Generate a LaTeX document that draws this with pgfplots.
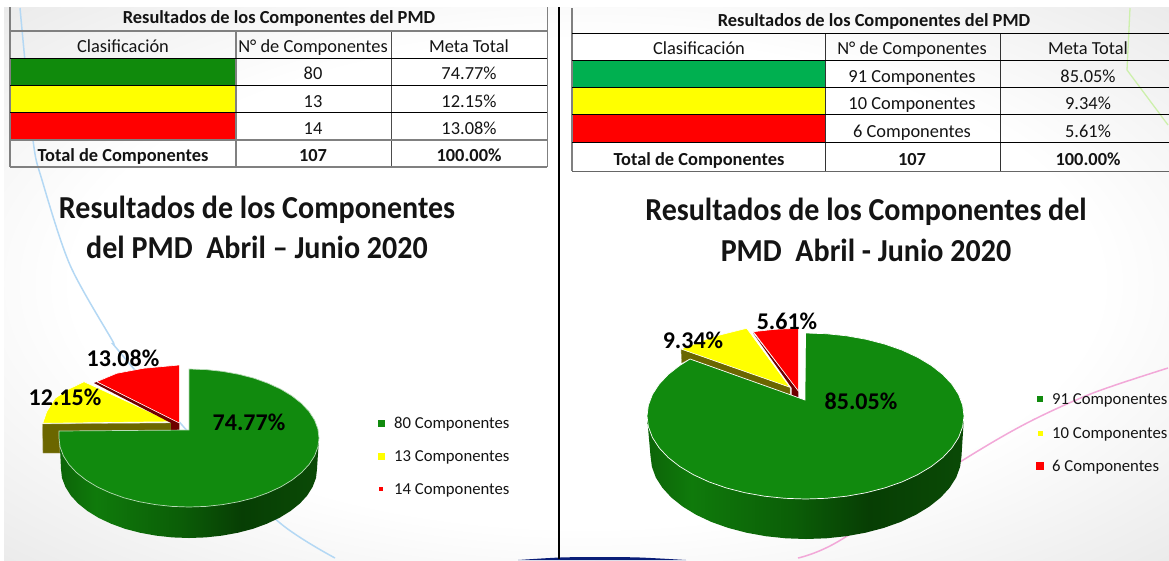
\documentclass[border=0pt]{standalone}
\usepackage{fontspec}
\setmainfont{Carlito}
\usepackage{graphicx}
\usepackage{pgfplots}
\pgfplotsset{compat=1.18}
\definecolor{pg}{HTML}{118A0E}
\definecolor{tg}{HTML}{108A0C}
\definecolor{tg2}{HTML}{00B050}
\definecolor{ol}{HTML}{6B6600}
\definecolor{dr}{HTML}{6E0000}
\definecolor{txt}{HTML}{141414}
\definecolor{yl}{HTML}{FFFF00}
\definecolor{rd}{HTML}{FF0000}
\definecolor{cblue}{HTML}{B4D8F4}
\definecolor{cpink}{HTML}{F2A8D8}
\definecolor{cgreen}{HTML}{CDF0AC}
\definecolor{navy}{HTML}{0A1E78}
\definecolor{sa}{HTML}{0C6408}
\definecolor{sb}{HTML}{0F7A0B}
\definecolor{sc}{HTML}{0B5E07}
\definecolor{sd}{HTML}{073E04}
\definecolor{se}{HTML}{0A4A06}
\definecolor{bgw}{HTML}{FFFFFF}
\definecolor{bgg}{HTML}{EAEAEA}
\definecolor{lg}{HTML}{808080}
\pgfdeclarehorizontalshading{sideg}{100bp}{color(0bp)=(sa);color(25bp)=(sa);color(32bp)=(sb);color(48bp)=(sc);color(60bp)=(sd);color(75bp)=(se);color(100bp)=(se)}
\pgfdeclareradialshading{bgs}{\pgfpoint{0bp}{0bp}}{color(0bp)=(bgw);color(22bp)=(bgw);color(36bp)=(bgg);color(50bp)=(bgg)}
\newcommand{\fs}[1]{\fontsize{#1}{#1}\selectfont}
\newcommand{\cond}[1]{\scalebox{.938}[1]{#1}}
\tikzset{tt/.style={text=txt,anchor=base,inner sep=0pt,font=\fs{18.4}},
tb/.style={text=txt,anchor=base,inner sep=0pt,font=\fs{18.4}\bfseries},
ti/.style={text=txt,anchor=base,inner sep=0pt,font=\fs{32}\bfseries},
pl/.style={text=black,font=\fs{24}\bfseries},
lt/.style={anchor=west,inner sep=0pt,text=txt,font=\fs{16.7}}}
\begin{document}
\begin{tikzpicture}
\begin{axis}[hide axis,scale only axis,width=1169pt,height=560pt,xmin=0,xmax=1169,ymin=0,ymax=560,y dir=reverse,no marks]
% page
\addplot[fill=white,draw=none] coordinates {(0,0)(1169,0)(1169,560)(0,560)} --cycle;
% background
\addplot[draw=none,shading=bgs] coordinates {(4,7)(1169,7)(1169,560)(4,560)} --cycle;
% decorative curves
\addplot[smooth,color=cblue,line width=1.5pt] coordinates {(20,8)(33,140)(42,180)(70,265)(112,340)(118,350)(200,445)(280,523)(335,558)};
\addplot[smooth,color=cpink,line width=1.5pt] coordinates {(798,558)(839,541)(960,462)(1027,423)(1093,393)(1168,368)};
\addplot[color=cgreen,line width=1.3pt] coordinates {(1130,8)(1127,70)(1168,125)};
\addplot[fill=navy,draw=none,smooth] coordinates {(518,560)(560,557.5)(600,557)(640,557.5)(686,560)};
% separator
\addplot[black,line width=2.6pt] coordinates {(559,7)(559,558.6)};
% left table fills
\addplot[fill=tg,draw=none] coordinates {(10,58)(236,58)(236,85)(10,85)} --cycle;
\addplot[fill=yl,draw=none] coordinates {(10,85)(236,85)(236,112)(10,112)} --cycle;
\addplot[fill=rd,draw=none] coordinates {(10,112)(236,112)(236,140)(10,140)} --cycle;
% right table fills
\addplot[fill=tg2,draw=none] coordinates {(572,60)(825,60)(825,87)(572,87)} --cycle;
\addplot[fill=yl,draw=none] coordinates {(572,87)(825,87)(825,114)(572,114)} --cycle;
\addplot[fill=rd,draw=none] coordinates {(572,114)(825,114)(825,142)(572,142)} --cycle;
% left table lines
\draw[lg,line width=1.2pt] (axis cs:10,7)--(axis cs:10,167);
\draw[lg,line width=1pt] (axis cs:547,7)--(axis cs:547,167);
\draw[lg,line width=1.2pt] (axis cs:236,31)--(axis cs:236,167);
\draw[black!70,line width=.7pt] (axis cs:391,31)--(axis cs:391,167);
\draw[lg,line width=1.2pt] (axis cs:10,31)--(axis cs:547,31);
\draw[black,line width=.8pt] (axis cs:10,58)--(axis cs:547,58);
\draw[black,line width=.8pt] (axis cs:10,85)--(axis cs:547,85);
\draw[black,line width=.8pt] (axis cs:10,112)--(axis cs:547,112);
\draw[lg,line width=1.2pt] (axis cs:10,140)--(axis cs:547,140);
\draw[lg,line width=1.2pt] (axis cs:10,167)--(axis cs:547,167);
% right table lines
\draw[lg,line width=1.2pt] (axis cs:572,8)--(axis cs:572,171);
\draw[black!80,line width=.7pt] (axis cs:825,33)--(axis cs:825,171);
\draw[black!80,line width=.7pt] (axis cs:1000,33)--(axis cs:1000,171);
\draw[black,line width=.8pt] (axis cs:572,33)--(axis cs:1168.6,33);
\draw[black,line width=.8pt] (axis cs:572,60)--(axis cs:1168.6,60);
\draw[black,line width=.8pt] (axis cs:572,87)--(axis cs:1168.6,87);
\draw[black,line width=.8pt] (axis cs:572,114)--(axis cs:1168.6,114);
\draw[black,line width=.8pt] (axis cs:572,142)--(axis cs:1168.6,142);
\draw[black!60,line width=1pt] (axis cs:572,171)--(axis cs:1168.6,171);
% left table text
\node[tb] at (axis cs:279,23) {Resultados de los Componentes del PMD};
\node[tt] at (axis cs:123,52) {Clasificación};
\node[tt] at (axis cs:313,52) {N° de Componentes};
\node[tt] at (axis cs:469,52) {Meta Total};
\node[tt] at (axis cs:313,79) {80};
\node[tt] at (axis cs:469,79) {74.77\%};
\node[tt] at (axis cs:313,107) {13};
\node[tt] at (axis cs:469,107) {12.15\%};
\node[tt] at (axis cs:313,134) {14};
\node[tt] at (axis cs:469,134) {13.08\%};
\node[tb] at (axis cs:123,161) {Total de Componentes};
\node[tb] at (axis cs:313,161) {107};
\node[tb] at (axis cs:469,161) {100.00\%};
% right table text
\node[tb] at (axis cs:874,26.5) {Resultados de los Componentes del PMD};
\node[tt] at (axis cs:699,54) {Clasificación};
\node[tt] at (axis cs:912,54) {N° de Componentes};
\node[tt] at (axis cs:1088,54) {Meta Total};
\node[tt] at (axis cs:912,82) {91 Componentes};
\node[tt] at (axis cs:1088,82) {85.05\%};
\node[tt] at (axis cs:912,109) {10 Componentes};
\node[tt] at (axis cs:1088,109) {9.34\%};
\node[tt] at (axis cs:912,137) {6 Componentes};
\node[tt] at (axis cs:1088,137) {5.61\%};
\node[tb] at (axis cs:699,165) {Total de Componentes};
\node[tb] at (axis cs:912,165) {107};
\node[tb] at (axis cs:1088,165) {100.00\%};
% titles
\node[ti] at (axis cs:257,218) {\cond{Resultados de los Componentes}};
\node[ti] at (axis cs:257,258) {\cond{del PMD\ \ Abril – Junio 2020}};
\node[ti] at (axis cs:866,220) {\cond{Resultados de los Componentes del}};
\node[ti] at (axis cs:866,261) {\cond{PMD\ \ Abril - Junio 2020}};
% ---------- left pie
% yellow side
\addplot[fill=ol,draw=ol!60!white,line width=.4pt] coordinates {(42.5,424)(171,423)(171,432)(59,432)(60,453)(43,453)} --cycle;
% yellow top
\addplot[fill=yl,draw=white,line width=.6pt] coordinates {(42.7,423.3)(46.7,411.7)(55,398.3)(68.3,389.3)(84,381.7)(171,421.7)} --cycle;
% red side
\addplot[fill=dr,draw=none] coordinates {(94,383)(96.7,382)(179.3,423)(179.3,430)(171,430)(171,423)} --cycle;
% red top
\addplot[fill=rd,draw=white,line width=.6pt] coordinates {(96.7,381.7)(116.7,373.3)(143.3,368.3)(179.3,365)(179.3,423)} --cycle;
% green side
\addplot[draw=none,shading=sideg] coordinates {(319,438)(317,469)(316,478)(312.6,486.9)(307.3,495.4)(299.9,503.5)(290.5,511)(279.5,517.8)(266.9,523.7)(253,528.8)(238,532.7)(222.1,535.6)(205.7,537.4)(189,538)(172.3,537.4)(155.9,535.6)(140,532.7)(125,528.8)(111.1,523.7)(98.5,517.8)(87.5,511)(78.1,503.5)(70.7,495.4)(65.4,486.9)(62,478)(61,469)(59.5,438)} --cycle;
% green top
\addplot[fill=pg,draw=white!70!pg,line width=.7pt] coordinates {(189,369)(206,369.6)(222.6,371.4)(238.8,374.3)(254,378.2)(268.1,383.3)(280.9,389.2)(292.1,396)(301.6,403.5)(309.1,411.6)(314.6,420.1)(317.9,429)(319,438)(317.9,447)(314.6,455.9)(309.1,464.4)(301.6,472.5)(292.1,480)(280.9,486.8)(268.1,492.7)(254,497.8)(238.8,501.7)(222.6,504.6)(206,506.4)(189,507)(172,506.4)(155.4,504.6)(139.2,501.7)(124,497.8)(109.9,492.7)(97.1,486.8)(85.9,480)(76.4,472.5)(68.9,464.4)(63.4,455.9)(60.1,447)(59,438)(59,431)(189,430)} --cycle;
\node[pl] at (axis cs:249,422) {74.77\%};
\node[pl] at (axis cs:65,397) {12.15\%};
\node[pl] at (axis cs:123,358.5) {13.08\%};
% left legend
\addplot[fill=pg,draw=none] coordinates {(377.5,419.5)(384.5,419.5)(384.5,426.5)(377.5,426.5)} --cycle;
\addplot[fill=yl,draw=none] coordinates {(377.5,452.5)(384.5,452.5)(384.5,459.5)(377.5,459.5)} --cycle;
\addplot[fill=rd,draw=none] coordinates {(379,487)(383,487)(383,491)(379,491)} --cycle;
\node[lt] at (axis cs:394,424) {80 Componentes};
\node[lt] at (axis cs:394,457) {13 Componentes};
\node[lt] at (axis cs:394,490) {14 Componentes};
% ---------- right pie
\addplot[fill=ol,draw=ol!60!white,line width=.4pt] coordinates {(681,349)(681.7,363)(690,359)(790,396)(790,387)} --cycle;
\addplot[fill=yl,draw=white,line width=.6pt] coordinates {(681,349)(713,336.7)(746.7,328.3)(790,387.3)} --cycle;
\addplot[fill=dr,draw=none] coordinates {(753,333)(791.7,388)(791.7,396.7)(798.3,399.3)(798.3,391)} --cycle;
\addplot[fill=rd,draw=white,line width=.6pt] coordinates {(753.3,331.7)(775,329.3)(798.3,328.3)(798.3,391)} --cycle;
\addplot[draw=none,shading=sideg] coordinates {(964,416)(961.5,456)(960.1,466.8)(956.2,477.5)(949.6,487.8)(940.7,497.5)(929.4,506.5)(916,514.7)(900.7,521.9)(883.8,527.9)(865.5,532.7)(846.2,536.2)(826.3,538.3)(806,539)(785.7,538.3)(765.8,536.2)(746.5,532.7)(728.2,527.9)(711.3,521.9)(696,514.7)(682.6,506.5)(671.3,497.5)(662.4,487.8)(655.8,477.5)(651.9,466.8)(650.5,456)(647,416)} --cycle;
\addplot[fill=pg,draw=white,line width=.7pt] coordinates {(805.5,333)(826.2,333.7)(846.5,335.8)(866.2,339.3)(884.8,344.1)(902,350.1)(917.6,357.3)(931.3,365.5)(942.8,374.5)(951.9,384.2)(958.6,394.5)(962.6,405.2)(964,416)(962.6,426.8)(958.6,437.5)(951.9,447.8)(942.8,457.5)(931.3,466.5)(917.6,474.7)(902,481.9)(884.8,487.9)(866.2,492.7)(846.5,496.2)(826.2,498.3)(805.5,499)(784.8,498.3)(764.5,496.2)(744.8,492.7)(726.2,487.9)(709,481.9)(693.4,474.7)(679.7,466.5)(668.2,457.5)(659.1,447.8)(652.4,437.5)(648.4,426.8)(647,416)(648.4,405.2)(652.4,394.5)(659.1,384.2)(668.2,374.5)(679.7,365.5)(690,359)(805,400)} --cycle;
\node[pl] at (axis cs:861,401) {85.05\%};
\node[pl] at (axis cs:693,340) {9.34\%};
\node[pl] at (axis cs:787,321) {5.61\%};
% right legend
\addplot[fill=pg,draw=none] coordinates {(1037,396)(1043,396)(1043,402)(1037,402)} --cycle;
\addplot[fill=yl,draw=none] coordinates {(1037.5,430.5)(1042.5,430.5)(1042.5,435.5)(1037.5,435.5)} --cycle;
\addplot[fill=rd,draw=none] coordinates {(1036,462)(1044,462)(1044,470)(1036,470)} --cycle;
\node[lt] at (axis cs:1052,400) {91 Componentes};
\node[lt] at (axis cs:1052,434) {10 Componentes};
\node[lt] at (axis cs:1052,467) {6 Componentes};
\end{axis}
\end{tikzpicture}
\end{document}
